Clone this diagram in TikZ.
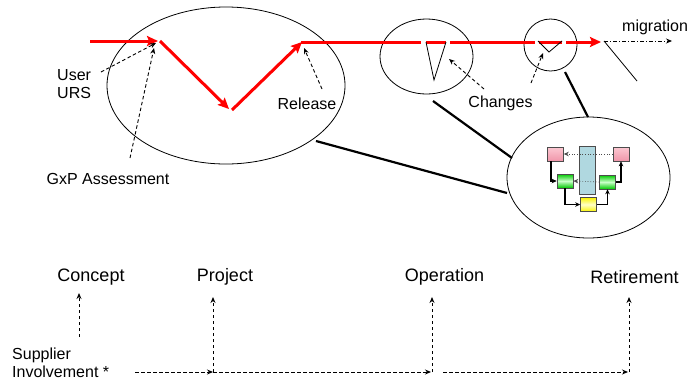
\documentclass[tikz,border=0pt]{standalone}
\usepackage{fontspec}
\setmainfont{Liberation Sans}
\usetikzlibrary{arrows.meta}
\definecolor{boxblue}{RGB}{176,216,224}
\definecolor{pinktop}{RGB}{252,200,210}
\definecolor{pinkbot}{RGB}{240,150,170}
\definecolor{gredge}{RGB}{0,200,0}
\definecolor{grmid}{RGB}{200,255,200}
\definecolor{yeedge}{RGB}{250,245,0}
\definecolor{yemid}{RGB}{255,255,200}
\begin{document}
\begin{tikzpicture}[x=1pt,y=-1pt,
  redline/.style={draw=red,line width=3pt},
  redarrow/.style={redline,-{Stealth[length=11pt,width=10pt,inset=2pt]}},
  thinline/.style={draw=black,line width=0.8pt},
  linkline/.style={draw=black,line width=2.2pt},
  dasharrow/.style={draw=black,line width=0.9pt,dash pattern=on 3.5pt off 2.5pt,-{Stealth[length=6pt,width=5pt]}},
  dashdotarrow/.style={draw=black,line width=0.8pt,dash pattern=on 4pt off 2pt on 1pt off 2pt,-{Stealth[length=6pt,width=5pt]}},
  lbl/.style={font=\fontsize{16}{18.4}\selectfont,inner sep=0pt,align=left},
  phase/.style={font=\fontsize{18}{21}\selectfont,inner sep=0pt},
  smallbox/.style={draw=black!70,line width=0.6pt,minimum width=16pt,minimum height=14pt,inner sep=0pt},
  flow/.style={draw=black,line width=1.4pt,-{Stealth[length=5pt,width=4.5pt]}},
  dotflow/.style={draw=black!70,line width=0.7pt,dotted,-{Stealth[length=5pt,width=4.5pt]}}]
\useasboundingbox (0,0) rectangle (687,381);

% ellipses
\draw[thinline] (226,85.5) ellipse [x radius=119,y radius=78.5];
\draw[thinline] (426.5,56.5) ellipse [x radius=46.5,y radius=37.5];
\draw[thinline] (550.5,45) ellipse [x radius=26.5,y radius=26];
\draw[thinline] (588.5,177.5) ellipse [x radius=81.5,y radius=60.5];

% link lines
\coordinate (b1) at (316,141); \coordinate (r1) at (507,193);
\coordinate (c1) at (433,101); \coordinate (r2) at (512,158);
\coordinate (c2) at (565,72);  \coordinate (r3) at (588,117);
\draw[linkline] (b1) -- (r1);
\draw[linkline] (c1) -- (r2);
\draw[linkline] (c2) -- (r3);

% red V-model path
\coordinate (p0) at (90,41);  \coordinate (p1) at (158,41);
\coordinate (p2) at (160,41); \coordinate (p3) at (229,109);
\coordinate (p4) at (232,110);\coordinate (p5) at (302,42);
\coordinate (q0) at (301,42); \coordinate (q1) at (421,42);
\coordinate (q2) at (426,42); \coordinate (q3) at (446,42);
\coordinate (q4) at (450,42); \coordinate (q5) at (535,42);
\coordinate (q6) at (539,42); \coordinate (q7) at (562,42);
\coordinate (q8) at (566,42); \coordinate (q9) at (601,42);
\draw[redarrow] (p0) -- (p1);
\draw[redarrow] (p2) -- (p3);
\draw[redarrow] (p4) -- (p5);
\draw[redline] (q0) -- (q1);
\draw[redline] (q2) -- (q3);
\draw[redline] (q4) -- (q5);
\draw[redline] (q6) -- (q7);
\draw[redarrow] (q8) -- (q9);

% change V marks
\coordinate (v1a) at (426,42); \coordinate (v1b) at (434,80); \coordinate (v1c) at (446,42);
\draw[thinline] (v1a) -- (v1b) -- (v1c);
\coordinate (v2a) at (538,41); \coordinate (v2b) at (549,52); \coordinate (v2c) at (562,41);
\draw[thinline] (v2a) -- (v2b) -- (v2c);

% migration
\coordinate (m0) at (604,41); \coordinate (m1) at (672,41); \coordinate (m2) at (637,81);
\draw[dashdotarrow] (m0) -- (m1);
\draw[thinline] (m0) -- (m2);
\node[lbl,anchor=west] (mig) at (622,27) {migration};

% labels top
\node[lbl,anchor=west] (user) at (57,84) {User\\URS};
\node[lbl] (rel) at (307,103.5) {Release};
\node[lbl] (gxp) at (108,178.5) {GxP Assessment};
\node[lbl] (chg) at (500.5,103.5) {Changes};

\coordinate (ua) at (101,72); \coordinate (ut) at (156,43);
\coordinate (ga) at (130,158); \coordinate (gt) at (154,48);
\coordinate (ra) at (322,89); \coordinate (rt) at (304,48);
\coordinate (ca1) at (484,89); \coordinate (ct1) at (449,59);
\coordinate (ca2) at (531,83); \coordinate (ct2) at (543,53);
\draw[dasharrow] (ua) -- (ut);
\draw[dasharrow] (ga) -- (gt);
\draw[dasharrow] (ra) -- (rt);
\draw[dasharrow] (ca1) -- (ct1);
\draw[dasharrow] (ca2) -- (ct2);

% inner process diagram
\node[draw=black!70,line width=0.6pt,fill=boxblue,minimum width=16pt,minimum height=48pt,inner sep=0pt] (bl) at (587,170) {};
\node[smallbox,top color=pinktop,bottom color=pinkbot] (pl) at (555.5,154) {};
\node[smallbox,top color=pinktop,bottom color=pinkbot] (pr) at (621,154) {};
\node[smallbox,top color=gredge,bottom color=gredge,middle color=grmid] (gl) at (565,181) {};
\node[smallbox,top color=gredge,bottom color=gredge,middle color=grmid] (gr) at (607.5,182) {};
\node[smallbox,top color=yeedge,bottom color=yeedge,middle color=yemid] (ye) at (588.5,204.5) {};
\draw[dotflow] (pr.west) -- (pl.east);
\draw[dotflow] (gr.west) -- (gl.east);
\draw[flow] (pl.south -| 551,0) |- (gl.west);
\draw[flow] (gl.south) |- (ye.west);
\draw[flow] (ye.east) -| (gr.south);
\draw[flow] (gr.east) -| (pr.south);

% phases
\node[phase] (concept) at (91,277) {Concept};
\node[phase] (project) at (225,277) {Project};
\node[phase] (oper) at (444.5,277) {Operation};
\node[phase] (retire) at (634.5,277) {Retirement};
\node[lbl,anchor=west] (sup) at (12,362.5) {Supplier\\Involvement *};

\coordinate (ca) at (79,337); \coordinate (ct) at (79,293);
\coordinate (s0) at (135,372);
\coordinate (s1) at (213,372); \coordinate (pt) at (213,297);
\coordinate (s2) at (431,372); \coordinate (ot) at (432,297);
\coordinate (s3) at (443,372);
\coordinate (s4) at (628,372); \coordinate (rt2) at (629,297);
\draw[dasharrow] (ca) -- (ct);
\draw[dasharrow] (s0) -- (s1);
\draw[dasharrow] (s1) -- (pt);
\draw[dasharrow] (s1) -- (s2);
\draw[dasharrow] ([xshift=1pt]s2) -- (ot);
\draw[dasharrow] (s3) -- (s4);
\draw[dasharrow] ([xshift=1pt]s4) -- (rt2);
\end{tikzpicture}
\end{document}
